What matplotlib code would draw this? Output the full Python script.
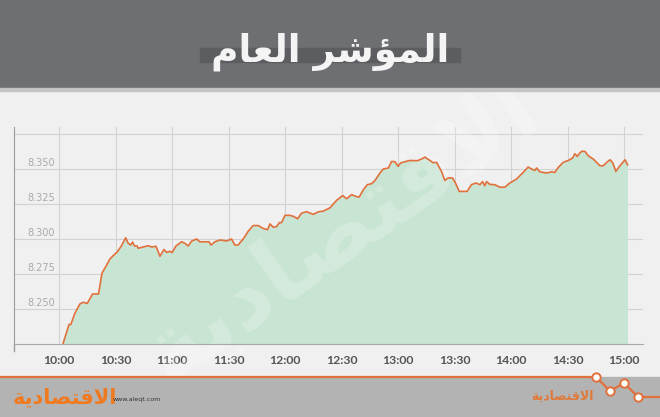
"""Intraday chart of the general index (TASI) - recreated with matplotlib."""

import matplotlib
matplotlib.use("Agg")
import matplotlib.pyplot as plt
from matplotlib.patches import Rectangle
from matplotlib.lines import Line2D

# minutes after 10:00 and index level
minutes = [2.1, 5.2, 6.2, 8.3, 11.0, 12.8, 14.9, 17.7, 20.9, 22.7, 25.2, 26.9,
           29.6, 30.8, 33.1, 35.3, 36.6, 37.9, 39.0, 40.0, 41.4, 41.9, 44.6,
           47.3, 49.1, 51.4, 53.5, 55.6, 57.0, 58.8, 60.0, 62.0, 65.0, 66.7,
           68.5, 70.3, 73.0, 74.7, 77.4, 79.6, 80.6, 82.7, 85.3, 87.1, 88.9,
           91.5, 93.3, 95.0, 97.7, 100.4, 103.0, 105.7, 108.3, 110.7, 111.9,
           113.7, 115.5, 116.9, 118.1, 119.9, 122.5, 124.3, 126.6, 128.7,
           131.4, 134.9, 137.6, 140.2, 143.8, 147.3, 150.5, 152.6, 155.3,
           157.9, 159.3, 161.5, 163.6, 165.9, 167.7, 170.3, 172.1, 174.8,
           176.5, 178.3, 180.0, 181.3, 183.6, 186.2, 190.1, 192.4, 194.2,
           196.8, 198.6, 200.4, 203.0, 204.8, 206.5, 208.9, 210.6, 212.4,
           214.5, 216.6, 218.9, 221.2, 223.4, 224.8, 226.0, 226.9, 228.7,
           231.3, 234.0, 236.6, 239.3, 242.8, 246.4, 249.0, 250.8, 252.6,
           253.5, 255.2, 258.8, 261.5, 263.2, 265.0, 267.6, 270.3, 272.6,
           273.8, 275.1, 276.1, 277.4, 279.2, 280.9, 283.6, 285.4, 287.2,
           288.9, 290.7, 292.5, 293.9, 295.6, 297.5, 299.3, 300.5, 301.8]
index = [8.2255, 8.2389, 8.2390, 8.2469, 8.2536, 8.2548, 8.2540, 8.2607,
         8.2607, 8.2755, 8.2814, 8.2857, 8.2893, 8.2907, 8.2952, 8.3009,
         8.2970, 8.2957, 8.2978, 8.2950, 8.2950, 8.2934, 8.2943, 8.2952,
         8.2943, 8.2948, 8.2877, 8.2925, 8.2905, 8.2912, 8.2903, 8.2950,
         8.2980, 8.2970, 8.2950, 8.2985, 8.3000, 8.2980, 8.2980, 8.2980,
         8.2957, 8.2980, 8.2993, 8.2990, 8.2986, 8.3000, 8.2957, 8.2957,
         8.3000, 8.3056, 8.3096, 8.3096, 8.3075, 8.3067, 8.3108, 8.3084,
         8.3089, 8.3117, 8.3117, 8.3169, 8.3169, 8.3162, 8.3145, 8.3185,
         8.3195, 8.3176, 8.3194, 8.3199, 8.3223, 8.3276, 8.3310, 8.3288,
         8.3317, 8.3302, 8.3300, 8.3352, 8.3388, 8.3395, 8.3418, 8.3471,
         8.3500, 8.3507, 8.3554, 8.3552, 8.3519, 8.3543, 8.3552, 8.3561,
         8.3559, 8.3571, 8.3585, 8.3561, 8.3545, 8.3547, 8.3483, 8.3418,
         8.3436, 8.3436, 8.3395, 8.3340, 8.3340, 8.3340, 8.3388, 8.3400,
         8.3388, 8.3410, 8.3380, 8.3410, 8.3390, 8.3388, 8.3370, 8.3370,
         8.3400, 8.3428, 8.3476, 8.3514, 8.3500, 8.3490, 8.3507, 8.3480,
         8.3471, 8.3480, 8.3476, 8.3511, 8.3547, 8.3561, 8.3578, 8.3609,
         8.3590, 8.3609, 8.3626, 8.3626, 8.3595, 8.3571, 8.3547, 8.3523,
         8.3523, 8.3547, 8.3566, 8.3545, 8.3483, 8.3519, 8.3547, 8.3566,
         8.3530]

tick_minutes = [0, 30, 60, 90, 120, 150, 180, 210, 240, 270, 300]
tick_labels = ["10:00", "10:30", "11:00", "11:30", "12:00", "12:30",
               "13:00", "13:30", "14:00", "14:30", "15:00"]
grid_levels = [8.250, 8.275, 8.300, 8.325, 8.350, 8.375]
level_labels = ["8.250", "8.275", "8.300", "8.325", "8.350"]

# "المؤشر العام" / "الاقتصادية" as Arabic presentation forms in visual order
# (matplotlib does no Arabic shaping or right-to-left layout by itself)
title = "\ufee1\ufe8e\ufecc\ufedf\ufe8d \ufeae\ufeb7\ufe86\ufee4\ufedf\ufe8d"
brand = "\ufe94\ufef3\ufea9\ufe8e\ufebc\ufe98\ufed7\ufefb\ufe8d"

W, H = 660, 417
BG = "#f0f0f0"
ORANGE = "#e0703c"


def px(x, y):
    return x / W, 1 - y / H


fig = plt.figure(figsize=(6.6, 4.17), dpi=100, facecolor=BG)

# header band with title
fig.patches.append(Rectangle(px(0, 88), 1, 88 / H, transform=fig.transFigure,
                             color="#6e6f73", zorder=0))
fig.patches.append(Rectangle(px(0, 91), 1, 3 / H, transform=fig.transFigure,
                             color="#c4c4c4", zorder=0))
fig.patches.append(Rectangle(px(200, 62), 260 / W, 14 / H,
                             transform=fig.transFigure, color="#5c5d61", zorder=1))
fig.text(*px(330, 52), title, ha="center", va="center", color="#f4f4f4",
         fontsize=27, fontweight="bold", family="DejaVu Sans", zorder=2)

# footer band
fig.patches.append(Rectangle(px(0, 417), 1, 40 / H, transform=fig.transFigure,
                             color="#b3b3b3", zorder=0))
zx = [0, 596, 610, 624, 638, 660]
zy = [377, 377, 391, 383, 397, 397]
fig.add_artist(Line2D([x / W for x in zx], [1 - y / H for y in zy],
                      transform=fig.transFigure, color=ORANGE, lw=1.6))
fig.add_artist(Line2D([x / W for x in zx[1:5]], [1 - y / H for y in zy[1:5]],
                      transform=fig.transFigure, ls="none", marker="o",
                      ms=6, mfc="white", mec=ORANGE, mew=1.4))
fig.text(*px(65, 397), brand, ha="center", va="center", color="#f07a20",
         fontsize=15, fontweight="bold", family="DejaVu Sans")
fig.text(*px(113, 399), "www.aleqt.com", ha="left", va="center",
         color="#333333", fontsize=4.5, family="DejaVu Sans")
fig.text(*px(562, 396), brand, ha="center", va="center", color="#e07a3a",
         fontsize=9, fontweight="bold", family="DejaVu Sans")

# chart
ax = fig.add_axes([14 / W, 1 - 344 / H, 629 / W, 217 / H])
ax.set_facecolor(BG)
ax.fill_between(minutes, index, 8.225, color="#c8e4d2", lw=0, zorder=2)
ax.plot(minutes, index, color=ORANGE, lw=1.2, zorder=3)

# faint diagonal watermark
ax.text(0.52, 0.52, brand, transform=ax.transAxes, ha="center", va="center",
        rotation=35, fontsize=66, fontweight="bold", color="white",
        alpha=0.22, family="DejaVu Sans", zorder=2.5)

ax.set_xlim(-24, 310)
ax.set_ylim(8.225, 8.380)
ax.set_xticks(tick_minutes)
ax.set_xticklabels(tick_labels, family="Lato", fontweight="bold",
                   fontsize=8.8, color="#555555")
ax.set_yticks(grid_levels)
ax.set_yticklabels([])
ax.tick_params(length=0, pad=8)
ax.grid(True, color="#d2d2d2", lw=0.8, zorder=1)
ax.set_axisbelow(True)

for lvl, lab in zip(grid_levels, level_labels):
    ax.text(0.021, lvl + 0.0009, lab, transform=ax.get_yaxis_transform(),
            ha="left", va="bottom", fontsize=7, color="#aaaaaa",
            family="DejaVu Sans")

for side in ("top", "right"):
    ax.spines[side].set_visible(False)
ax.spines["left"].set_color("#9a9a9a")
ax.spines["bottom"].set_color("#a8a8a8")
ax.add_line(Line2D([0, 0], [0, -0.03], transform=ax.transAxes,
                   color="#9a9a9a", lw=1, clip_on=False))

fig.savefig("out.png", dpi=100, facecolor=BG)
